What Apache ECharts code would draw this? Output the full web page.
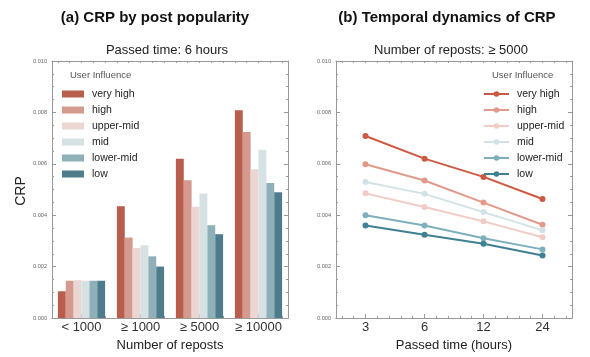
<!DOCTYPE html>
<html>
<head>
<meta charset="utf-8">
<script src="https://cdn.jsdelivr.net/npm/echarts@6/dist/echarts.min.js"></script>
<style>html,body{margin:0;padding:0;background:#fff;}#c{width:590px;height:357px;}</style>
</head>
<body>
<div id="c"></div>
<script>
const groupLabels = ['< 1000', '\u2265 1000', '\u2265 5000', '\u2265 10000'];
const timeLabels = ['3', '6', '12', '24'];
const influence = ['very high', 'high', 'upper-mid', 'mid', 'lower-mid', 'low'];

const veryHighBar = [0.00104, 0.00435, 0.00620, 0.00808];
const highBar     = [0.00145, 0.00313, 0.00536, 0.00724];
const upperMidBar = [0.00147, 0.00272, 0.00433, 0.00579];
const midBar      = [0.00145, 0.00283, 0.00484, 0.00655];
const lowerMidBar = [0.00145, 0.00240, 0.00361, 0.00525];
const lowBar      = [0.00145, 0.00200, 0.00326, 0.00489];

const veryHighLine = [0.00708, 0.00620, 0.00549, 0.00463];
const highLine     = [0.00598, 0.00535, 0.00449, 0.00363];
const upperMidLine = [0.00485, 0.00432, 0.00376, 0.00314];
const midLine      = [0.00529, 0.00483, 0.00412, 0.00341];
const lowerMidLine = [0.00400, 0.00360, 0.00310, 0.00267];
const lowLine      = [0.00360, 0.00324, 0.00289, 0.00243];

const barData = [veryHighBar, highBar, upperMidBar, midBar, lowerMidBar, lowBar];
const lineData = [veryHighLine, highLine, upperMidLine, midLine, lowerMidLine, lowLine];
const barColors = ['#b95e4c', '#d39a8d', '#ecd6d3', '#d5e1e3', '#8fb0b8', '#4d7d8c'];
const lineColors = ['#cd5a40', '#e3998a', '#f2cbc6', '#d2e2e7', '#7eb0bc', '#3f8093'];

const FONT = 'Liberation Sans, Arial, Helvetica, sans-serif';
const frame = '#999999';
const fine = new Array(20).fill('');
const LSUF = ' ';

function yAxes(gi) {
  const base = {
    type: 'value', gridIndex: gi, min: 0, max: 0.010, interval: 0.002,
    axisLine: {show: true, onZero: false, lineStyle: {color: frame, width: 1}},
    axisTick: {show: true, inside: true, length: 4, lineStyle: {color: frame}},
    minorTick: {show: true, splitNumber: 4, length: 2, lineStyle: {color: frame}},
    splitLine: {show: false}
  };
  return [
    Object.assign({}, base, {position: 'left',
      axisLabel: {show: true, fontSize: 5.6, color: '#666', margin: 5, fontFamily: FONT,
        formatter: v => v.toFixed(3)}}),
    Object.assign({}, base, {position: 'right', axisLabel: {show: false}})
  ];
}

function fineX(gi, pos) {
  return {
    type: 'category', gridIndex: gi, data: fine, position: pos, boundaryGap: true,
    axisLine: {show: true, onZero: false, lineStyle: {color: frame, width: 1}},
    axisTick: {show: true, inside: true, length: 2, alignWithLabel: true, interval: 0, lineStyle: {color: frame}},
    axisLabel: {show: false}, splitLine: {show: false}
  };
}

function mainX(gi, data, name) {
  return {
    type: 'category', gridIndex: gi, data: data, position: 'bottom', boundaryGap: true,
    axisLine: {show: true, onZero: false, lineStyle: {color: frame, width: 1}},
    axisTick: {show: true, inside: true, length: 4, alignWithLabel: true, lineStyle: {color: frame}},
    axisLabel: {fontSize: 13, color: '#333', margin: 3, fontFamily: FONT, interval: 0},
    name: name, nameLocation: 'middle', nameGap: 21,
    nameTextStyle: {fontSize: 13, color: '#222', fontFamily: FONT}
  };
}

const series = [];
influence.forEach((nm, i) => {
  series.push({
    type: 'bar', name: nm, xAxisIndex: 0, yAxisIndex: 0, data: barData[i],
    itemStyle: {color: barColors[i]}, barGap: '0%', barCategoryGap: '20%'
  });
});
influence.forEach((nm, i) => {
  series.push({
    type: 'line', name: nm + LSUF, xAxisIndex: 3, yAxisIndex: 2, data: lineData[i],
    color: lineColors[i], lineStyle: {color: lineColors[i], width: 2},
    itemStyle: {color: lineColors[i]}, symbol: 'circle', symbolSize: 6
  });
});

const legendText = {fontSize: 10.5, color: '#222', fontFamily: FONT, lineHeight: 16, padding: [0, 0, 0, 3]};

const option = {
  animation: false,
  backgroundColor: '#fff',
  grid: [
    {left: 52, right: 302, top: 61, bottom: 39},
    {left: 336, right: 18, top: 61, bottom: 39}
  ],
  xAxis: [
    mainX(0, groupLabels, 'Number of reposts'),
    fineX(0, 'top'),
    fineX(0, 'bottom'),
    mainX(1, timeLabels, 'Passed time (hours)'),
    fineX(1, 'top'),
    fineX(1, 'bottom')
  ],
  yAxis: yAxes(0).concat(yAxes(1)),
  legend: [
    {
      orient: 'vertical', left: 57, top: 81, itemWidth: 22, itemHeight: 7, itemGap: 0,
      data: influence.map(n => ({name: n, icon: 'rect'})), textStyle: legendText,
      selectedMode: false
    },
    {
      orient: 'vertical', left: 478, top: 81, itemWidth: 25, itemHeight: 7, itemGap: 0,
      data: influence.map(n => n + LSUF), textStyle: legendText, selectedMode: false,
      formatter: n => n.trim()
    }
  ],
  graphic: [
    {type: 'text', x: 155, y: 18, style: {text: '(a) CRP by post popularity', font: 'bold 15px ' + FONT, fill: '#111', textAlign: 'center', textVerticalAlign: 'middle'}},
    {type: 'text', x: 447, y: 18, style: {text: '(b) Temporal dynamics of CRP', font: 'bold 15px ' + FONT, fill: '#111', textAlign: 'center', textVerticalAlign: 'middle'}},
    {type: 'text', x: 167, y: 50, style: {text: 'Passed time: 6 hours', font: '13px ' + FONT, fill: '#222', textAlign: 'center', textVerticalAlign: 'middle'}},
    {type: 'text', x: 451, y: 50, style: {text: 'Number of reposts: \u2265 5000', font: '13px ' + FONT, fill: '#222', textAlign: 'center', textVerticalAlign: 'middle'}},
    {type: 'text', x: 21, y: 191, rotation: Math.PI / 2, style: {text: 'CRP', font: '14px ' + FONT, fill: '#222', textAlign: 'center', textVerticalAlign: 'middle'}},
    {type: 'text', x: 70, y: 75, style: {text: 'User Influence', font: '9.5px ' + FONT, fill: '#555', textAlign: 'left', textVerticalAlign: 'middle'}},
    {type: 'text', x: 492, y: 75, style: {text: 'User Influence', font: '9.5px ' + FONT, fill: '#555', textAlign: 'left', textVerticalAlign: 'middle'}}
  ],
  series: series
};

const chart = echarts.init(document.getElementById('c'), null, {renderer: 'canvas'});
chart.setOption(option);
</script>
</body>
</html>
